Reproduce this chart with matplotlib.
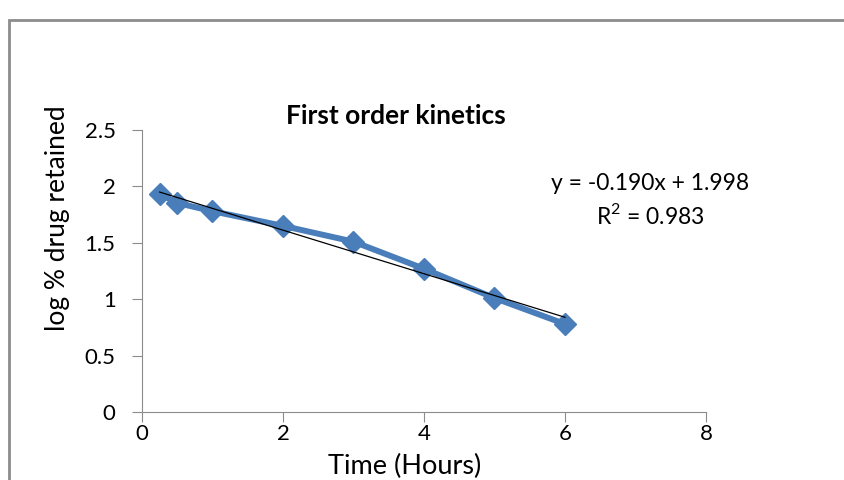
import numpy as np
import matplotlib.pyplot as plt
from matplotlib.patches import Rectangle

# time (hours) and log % drug retained
time_h = [0.25, 0.5, 1, 2, 3, 4, 5, 6]
log_retained = [1.933, 1.853, 1.78, 1.65, 1.51, 1.27, 1.01, 0.78]
eq_text = "y = -0.190x + 1.998"
r2_text = "R$^2$ = 0.983"

plt.rcParams['font.family'] = ['Lato', 'DejaVu Sans']
plt.rcParams['mathtext.fontset'] = 'custom'
plt.rcParams['mathtext.rm'] = 'Lato'

fig = plt.figure(figsize=(8.45, 4.8), dpi=100)
fig.patches.append(Rectangle((9/845, -0.1), 1.1, 1 - 20/480 + 0.1, transform=fig.transFigure,
                             fill=False, edgecolor='#8c8c8c', linewidth=2))

ax = fig.add_axes([142/845, 68/480, 564/845, 282/480])
ax.plot(time_h, log_retained, color='#4a7ebb', lw=4.3, marker='D', markersize=11,
        markeredgecolor='#4a7ebb', zorder=2)

# linear trendline
k, b = np.polyfit(time_h, log_retained, 1)
xs = np.array([time_h[0], time_h[-1]])
ax.plot(xs, k*xs + b, color='black', lw=0.9, zorder=3)

ax.set_xlim(0, 8)
ax.set_ylim(0, 2.5)
ax.set_xticks([0, 2, 4, 6, 8])
ax.set_yticks([0, 0.5, 1, 1.5, 2, 2.5])
ax.set_yticklabels(['0', '0.5', '1', '1.5', '2', '2.5'])
for s in ['top', 'right']:
    ax.spines[s].set_visible(False)
for s in ['left', 'bottom']:
    ax.spines[s].set_color('#8c8c8c')
ax.tick_params(colors='#8c8c8c', labelcolor='black', labelsize=16, length=7, direction='out')
ax.tick_params(axis='x', pad=2)
ax.tick_params(axis='y', pad=12)

fig.text(396/845, 1 - 116/480, "First order kinetics", ha='center', va='center',
         fontsize=19, fontweight='bold')
fig.text(57/845, 1 - 218/480, "log % drug retained", ha='center', va='center',
         rotation=90, fontsize=19)
fig.text(405/845, 1 - 466/480, "Time (Hours)", ha='center', va='center', fontsize=19.5)
fig.text(650/845, 1 - 184/480, eq_text, ha='center', va='center', fontsize=16.5)
fig.text(650/845, 1 - 216/480, r2_text, ha='center', va='center', fontsize=16.5)

fig.savefig('out.png', dpi=100)
